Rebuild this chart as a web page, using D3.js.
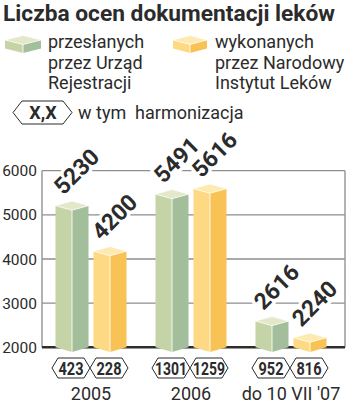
<!DOCTYPE html>
<html><head><meta charset="utf-8">
<script src="https://cdn.jsdelivr.net/npm/d3@7"></script>
<style>
html,body{margin:0;padding:0;background:#fff;}
svg{display:block;font-family:Roboto,"DejaVu Sans",sans-serif;}
</style></head>
<body><svg id="c" width="350" height="404"></svg>
<script>
const categories = ["2005", "2006", "do 10 VII '07"];
const seriesNames = ["przesłanych przez Urząd Rejestracji", "wykonanych przez Narodowy Instytut Leków"];
const sentValues = [5230, 5491, 2616];
const doneValues = [4200, 5616, 2240];
const sentHarm = [423, 1301, 952];
const doneHarm = [228, 1259, 816];
const yTicks = [2000, 3000, 4000, 5000, 6000];

const svg = d3.select("#c");
const ink = "#2b2b2b";
const colors = [
  {left:"#c5d4a6", right:"#a2be9b", top:"#e3e8cb"},
  {left:"#fed983", right:"#f8c354", top:"#fdeab0"}
];

// title
svg.append("text").attr("x",3).attr("y",21).attr("font-size",22).attr("font-weight",700)
  .attr("fill",ink).attr("textLength",332).attr("lengthAdjust","spacingAndGlyphs")
  .text("Liczba ocen dokumentacji leków");

function box(g, L, R, yT, base, d, c){
  const M = (L+R)/2;
  g.append("path").attr("d",`M${L},${yT}L${M},${yT+d}L${M},${base+d}L${L},${base}Z`).attr("fill",c.left);
  g.append("path").attr("d",`M${M},${yT+d}L${R},${yT}L${R},${base}L${M},${base+d}Z`).attr("fill",c.right);
  g.append("path").attr("d",`M${L},${yT}L${M},${yT-d}L${R},${yT}L${M},${yT+d}Z`).attr("fill",c.top)
    .attr("stroke","rgba(255,255,255,0.8)").attr("stroke-width",0.8);
  g.append("line").attr("x1",M).attr("x2",M).attr("y1",yT+d).attr("y2",base+d)
    .attr("stroke","rgba(255,255,255,0.85)").attr("stroke-width",1);
}

function hexagon(g, cx, cy, w, h, tip){
  const x0=cx-w/2, x1=cx+w/2;
  g.append("path").attr("d",`M${x0},${cy}L${x0+tip},${cy-h/2}L${x1-tip},${cy-h/2}L${x1},${cy}L${x1-tip},${cy+h/2}L${x0+tip},${cy+h/2}Z`)
    .attr("fill","#fff").attr("stroke",ink).attr("stroke-width",1);
}

// legend
const lg = svg.append("g");
box(lg, 5, 41, 40, 48.5, 4.5, colors[0]);
box(lg, 173, 207, 40, 48.5, 4.5, colors[1]);
const legLines = [["przesłanych","przez Urząd","Rejestracji"],["wykonanych","przez Narodowy","Instytut Leków"]];
[48, 215].forEach((x,i)=>{
  legLines[i].forEach((t,j)=>{
    lg.append("text").attr("x",x).attr("y",48+j*20.5).attr("font-size",18).attr("fill",ink).text(t);
  });
});
hexagon(lg, 42.5, 112.5, 59, 23, 9);
lg.append("text").attr("x",43).attr("y",119).attr("text-anchor","middle").attr("font-size",18)
  .attr("font-weight",700).attr("fill",ink).text("X,X");
lg.append("text").attr("x",78).attr("y",119).attr("font-size",18).attr("fill",ink)
  .style("white-space","pre").text("w tym  harmonizacja");

// scales
const y = d3.scaleLinear().domain([2000,6000]).range([347.3,170.7]);
const x = d3.scaleBand().domain(categories).range([41,341]).padding(0);
const xi = d3.scaleBand().domain([0,1]).range([-35.5,35.5]).paddingInner(5/38).paddingOuter(0);

// gridlines
const grid = svg.append("g");
grid.selectAll("line.g").data(yTicks.filter(v=>v>2000)).join("line")
  .attr("x1",42).attr("x2",345).attr("y1",d=>y(d)).attr("y2",d=>y(d))
  .attr("stroke","#8e8e8e").attr("stroke-width",1.3);
grid.append("line").attr("x1",42).attr("x2",42).attr("y1",y(6000)).attr("y2",y(2000)).attr("stroke","#9a9a9a").attr("stroke-width",1.5);
grid.append("line").attr("x1",345).attr("x2",345).attr("y1",y(6000)).attr("y2",y(2000)).attr("stroke","#9a9a9a").attr("stroke-width",1.5);
grid.append("line").attr("x1",42).attr("x2",345).attr("y1",y(2000)).attr("y2",y(2000)).attr("stroke","#2e2e2e").attr("stroke-width",2.6);

// y labels
svg.append("g").selectAll("text").data(yTicks).join("text")
  .attr("x",37).attr("y",d=>y(d)).attr("dy","0.36em").attr("text-anchor","end")
  .attr("font-size",15.5).attr("fill",ink).text(d=>d);

const series = [sentValues, doneValues];
const harm = [sentHarm, doneHarm];
const bw = xi.bandwidth();

// value labels (with halo cutting gridlines)
const lab = svg.append("g");
series.forEach((vals,s)=>{
  vals.forEach((v,k)=>{
    const L = x(categories[k]) + x.bandwidth()/2 + xi(s);
    const px = L+8, py = y(v)-9;
    lab.append("text").attr("transform",`translate(${px},${py}) rotate(-45)`)
      .attr("font-size",23).attr("font-weight",700).attr("fill",ink)
      .attr("stroke","#fff").attr("stroke-width",7).attr("paint-order","stroke")
      .attr("stroke-linejoin","round").text(v);
  });
});

// bars
const bars = svg.append("g");
series.forEach((vals,s)=>{
  vals.forEach((v,k)=>{
    const L = x(categories[k]) + x.bandwidth()/2 + xi(s);
    box(bars, L, L+bw, y(v)+1, y(2000), 4.6, colors[s]);
  });
});

// harmonization hexagons
const hx = svg.append("g");
harm.forEach((vals,s)=>{
  vals.forEach((v,k)=>{
    const cx = x(categories[k]) + x.bandwidth()/2 + xi(s) + bw/2 - 1;
    hexagon(hx, cx, 368, 38, 20, 6);
    const n = String(v).length;
    hx.append("text").attr("x",cx).attr("y",374.5).attr("text-anchor","middle")
      .attr("font-size",18).attr("font-weight",700).attr("fill",ink)
      .attr("textLength", n>3 ? 32 : 25).attr("lengthAdjust","spacingAndGlyphs").text(v);
  });
});

// category labels
svg.append("g").selectAll("text").data(categories).join("text")
  .attr("x",d=>x(d)+x.bandwidth()/2).attr("y",400).attr("text-anchor","middle")
  .attr("font-size",18).attr("fill",ink).text(d=>d);
</script></body></html>
